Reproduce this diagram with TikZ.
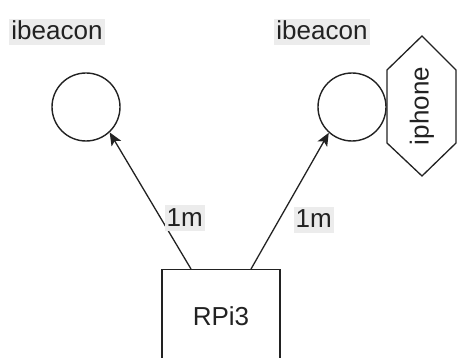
\documentclass[tikz,border=0pt]{standalone}
\usepackage{fontspec}
\setmainfont{Liberation Sans}
\usetikzlibrary{arrows.meta}
\definecolor{lblgray}{HTML}{ECECEC}
\definecolor{ink}{HTML}{222222}
\begin{document}
\begin{tikzpicture}[x=1pt,y=-1pt,
  every node/.style={font=\fontsize{26}{30}\selectfont, text=ink},
  beacon/.style={draw=ink, circle, line width=1.4pt, minimum size=68pt, inner sep=0pt},
  lbl/.style={fill=lblgray, inner sep=2pt, text height=19pt, text depth=3pt},
  box/.style={draw=ink, line width=1.4pt, minimum width=118pt, minimum height=120pt, inner sep=0pt},
  conn/.style={-{Stealth[length=13pt, width=11pt, inset=3pt]}, line width=1.3pt, draw=ink},
  hexline/.style={draw=ink, line width=1.3pt, line join=miter}]
\useasboundingbox (0,0) rectangle (457,358);
% beacons
\node[beacon] (b1) at (86,107) {};
\node[beacon] (b2) at (352,107) {};
\node[lbl] (t1) at (57,32) {ibeacon};
\node[lbl] (t2) at (322,32) {ibeacon};
% iphone hexagon
\node[rotate=90, inner sep=0pt] (ip) at (422,106) {iphone};
\draw[hexline] (422,36) -- (456,70) -- (456,143) -- (422,176) -- (387,143) -- (387,70) -- cycle;
% RPi3 box (cut off at bottom)
\node[box, anchor=north] (rpi) at (221,269) {};
\node (rpit) at (221,316) {RPi3};
% connectors
\draw[conn] ([xshift=-30pt]rpi.north) -- (b1.-47)
  node[lbl, pos=0.37, anchor=west, xshift=3pt] (m1) {1m};
\draw[conn] ([xshift=30pt]rpi.north) -- (b2.228)
  node[lbl, pos=0.36, anchor=west, xshift=14pt] (m2) {1m};
\end{tikzpicture}
\end{document}
